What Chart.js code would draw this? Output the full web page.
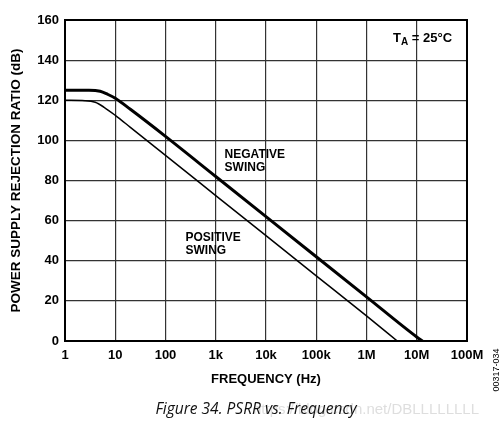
<!DOCTYPE html>
<html>
<head>
<meta charset="utf-8">
<script src="https://cdn.jsdelivr.net/npm/chart.js@4"></script>
<style>
  body { margin: 0; background: #fff; }
  #psrr { display: block; }
</style>
</head>
<body>
<canvas id="psrr" width="503" height="422"></canvas>
<script>
// frequency (Hz) and PSRR (dB)
var negFreq = [1, 3, 5, 7, 10, 20, 100, 1e3, 1e4, 1e5, 1e6, 1e7, 1.3e7];
var negPsrr = [125, 125, 124.5, 123, 121, 115.5, 102, 82, 62, 42, 22, 2, 0];
var posFreq = [1, 2.5, 4, 6, 10, 20, 100, 1e3, 1e4, 1e5, 1e6, 4.1e6];
var posPsrr = [120, 119.8, 119, 116.5, 112.5, 106.5, 92.5, 72.5, 52.5, 32.5, 12.5, 0];
var xTicks = [1, 10, 100, 1e3, 1e4, 1e5, 1e6, 1e7, 1e8];
var xTickLabels = ['1', '10', '100', '1k', '10k', '100k', '1M', '10M', '100M'];

function toPoints(xs, ys) {
    return xs.map(function (x, i) { return { x: x, y: ys[i] }; });
}

var tickFont = { family: 'Liberation Sans, Arial, sans-serif', size: 13, weight: 'bold' };

var extras = {
    id: 'extras',
    afterDraw: function (chart) {
        var ctx = chart.ctx;
        var a = chart.chartArea;
        var xs = chart.scales.x, ys = chart.scales.y;
        ctx.save();
        // frame
        ctx.strokeStyle = '#000';
        ctx.lineWidth = 2;
        ctx.strokeRect(a.left, a.top, a.right - a.left, a.bottom - a.top);

        ctx.fillStyle = '#000';
        ctx.font = 'bold 12px Liberation Sans, Arial, sans-serif';
        ctx.textBaseline = 'alphabetic';
        ctx.textAlign = 'left';
        // curve labels
        var nx = xs.getPixelForValue(1500), ny = ys.getPixelForValue(91);
        ctx.fillText('NEGATIVE', nx, ny);
        ctx.fillText('SWING', nx, ny + 13);
        var px = xs.getPixelForValue(250), py = ys.getPixelForValue(50);
        ctx.fillText('POSITIVE', px, py);
        ctx.fillText('SWING', px, py + 13);

        // T_A = 25°C
        ctx.font = 'bold 13px Liberation Sans, Arial, sans-serif';
        var tx = 393, ty = 42;
        ctx.fillText('T', tx, ty);
        var w = ctx.measureText('T').width;
        ctx.font = 'bold 10px Liberation Sans, Arial, sans-serif';
        ctx.fillText('A', tx + w, ty + 3);
        var w2 = ctx.measureText('A').width;
        ctx.font = 'bold 13px Liberation Sans, Arial, sans-serif';
        ctx.fillText(' = 25\u00B0C', tx + w + w2, ty);

        // side code
        ctx.save();
        ctx.translate(499, 370);
        ctx.rotate(-Math.PI / 2);
        ctx.font = '9px Liberation Sans, Arial, sans-serif';
        ctx.textAlign = 'center';
        ctx.fillText('00317-034', 0, 0);
        ctx.restore();

        // watermark
        ctx.fillStyle = 'rgba(200,200,200,0.6)';
        ctx.font = '15px Liberation Sans, Arial, sans-serif';
        ctx.textAlign = 'left';
        ctx.fillText('https://blog.csdn.net/DBLLLLLLLL', 253, 414);

        // caption
        ctx.fillStyle = '#111';
        ctx.font = 'italic 15.5px Open Sans, Noto Sans, sans-serif';
        ctx.textAlign = 'center';
        ctx.fillText('Figure 34. PSRR vs. Frequency', 256, 414);
        ctx.restore();
    }
};

new Chart(document.getElementById('psrr'), {
    type: 'line',
    data: {
        datasets: [
            {
                label: 'NEGATIVE SWING',
                data: toPoints(negFreq, negPsrr),
                borderColor: '#000',
                borderWidth: 3,
                pointRadius: 0,
                cubicInterpolationMode: 'monotone'
            },
            {
                label: 'POSITIVE SWING',
                data: toPoints(posFreq, posPsrr),
                borderColor: '#000',
                borderWidth: 1.5,
                pointRadius: 0,
                cubicInterpolationMode: 'monotone'
            }
        ]
    },
    options: {
        responsive: false,
        animation: false,
        layout: { padding: { left: 4, top: 20, right: 36, bottom: 31 } },
        plugins: {
            legend: { display: false },
            tooltip: { enabled: false }
        },
        scales: {
            x: {
                type: 'logarithmic',
                min: 1,
                max: 1e8,
                afterBuildTicks: function (scale) {
                    scale.ticks = xTicks.map(function (v) { return { value: v }; });
                },
                afterFit: function (scale) { scale.height = 50; },
                ticks: {
                    color: '#000',
                    font: tickFont,
                    maxRotation: 0,
                    autoSkip: false,
                    padding: 7,
                    callback: function (v) {
                        var i = xTicks.indexOf(v);
                        return i >= 0 ? xTickLabels[i] : '';
                    }
                },
                grid: { color: '#333', lineWidth: 1.2, drawTicks: false },
                border: { color: '#000', width: 2 },
                title: {
                    display: true,
                    text: 'FREQUENCY (Hz)',
                    color: '#000',
                    font: tickFont,
                    padding: { top: 4 }
                }
            },
            y: {
                min: 0,
                max: 160,
                afterFit: function (scale) { scale.width = 61; },
                ticks: {
                    stepSize: 20,
                    color: '#000',
                    font: tickFont,
                    padding: 6
                },
                grid: { color: '#333', lineWidth: 1.2, drawTicks: false },
                border: { color: '#000', width: 2 },
                title: {
                    display: true,
                    text: 'POWER SUPPLY REJECTION RATIO (dB)',
                    color: '#000',
                    font: { family: 'Liberation Sans, Arial, sans-serif', size: 13.5, weight: 'bold' },
                    padding: { bottom: 2 }
                }
            }
        }
    },
    plugins: [extras]
});
</script>
</body>
</html>
